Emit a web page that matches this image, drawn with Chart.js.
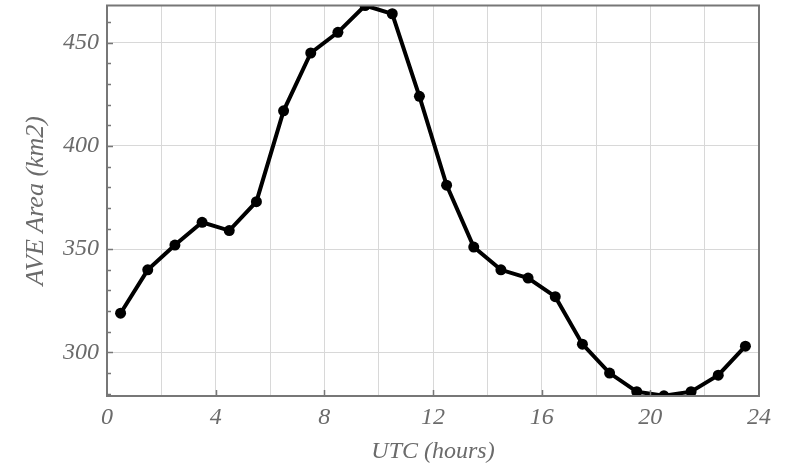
<!DOCTYPE html>
<html>
<head>
<meta charset="utf-8">
<script src="https://cdn.jsdelivr.net/npm/chart.js@4.4.0/dist/chart.umd.min.js"></script>
<style>
  html, body { margin: 0; padding: 0; background: #fff; }
  #wrap { width: 794px; height: 466px; position: relative; }
</style>
</head>
<body>
<div id="wrap"><canvas id="c" width="794" height="466"></canvas></div>
<script>
const hours = [0.5, 1.5, 2.5, 3.5, 4.5, 5.5, 6.5, 7.5, 8.5, 9.5, 10.5, 11.5,
               12.5, 13.5, 14.5, 15.5, 16.5, 17.5, 18.5, 19.5, 20.5, 21.5, 22.5, 23.5];
const aveArea = [319, 340, 352, 363, 359, 373, 417, 445, 455, 468, 464, 424,
                 381, 351, 340, 336, 327, 304, 290, 281, 279, 281, 289, 303];
const xTickLabels = [0, 4, 8, 12, 16, 20, 24];
const yTickLabels = [300, 350, 400, 450];
const xTitle = 'UTC (hours)';
const yTitle = 'AVE Area (km2)';

const textColor = '#6b6b6b';
const axisColor = '#777777';
const gridColor = '#d8d8d8';

const framePlugin = {
  id: 'frame',
  afterDraw(chart) {
    const ctx = chart.ctx;
    const a = chart.chartArea;
    const xs = chart.scales.x, ys = chart.scales.y;
    ctx.save();
    ctx.strokeStyle = axisColor;
    ctx.lineWidth = 2;
    ctx.strokeRect(a.left, a.top, a.right - a.left, a.bottom - a.top);
    ctx.lineWidth = 1.5;
    xTickLabels.forEach(v => {
      if (v <= xs.min || v >= xs.max) return;
      const px = Math.round(xs.getPixelForValue(v)) + 0.5;
      ctx.beginPath(); ctx.moveTo(px, a.bottom); ctx.lineTo(px, a.bottom - 6); ctx.stroke();
    });
    for (let v = 280; v <= 460; v += 10) {
      if (v < ys.min || v > ys.max) continue;
      const py = Math.round(ys.getPixelForValue(v)) + 0.5;
      const len = (v % 50 === 0) ? 6 : 4;
      ctx.beginPath(); ctx.moveTo(a.left, py); ctx.lineTo(a.left + len, py); ctx.stroke();
    }
    ctx.restore();
  }
};

new Chart(document.getElementById('c'), {
  type: 'line',
  data: {
    datasets: [{
      data: hours.map((h, i) => ({ x: h, y: aveArea[i] })),
      borderColor: '#000',
      backgroundColor: '#000',
      borderWidth: 4,
      pointRadius: 5.5,
      pointHoverRadius: 5.5,
      pointBorderWidth: 0,
      tension: 0,
      clip: 0
    }]
  },
  options: {
    responsive: false,
    animation: false,
    events: [],
    layout: { padding: { left: 0, right: 35, top: 5, bottom: 0 } },
    plugins: { legend: { display: false }, tooltip: { enabled: false } },
    scales: {
      x: {
        type: 'linear',
        min: 0, max: 24,
        afterFit(s) { s.height = 70; s.paddingLeft = 0; s.paddingRight = 0; },
        ticks: {
          stepSize: 2,
          autoSkip: false,
          maxRotation: 0,
          padding: 7,
          color: textColor,
          font: { family: 'Liberation Serif', style: 'italic', size: 24 },
          callback: v => (xTickLabels.includes(v) ? String(v) : '')
        },
        grid: { color: gridColor, lineWidth: 1, drawTicks: false },
        border: { display: false },
        title: {
          display: true, text: xTitle, color: textColor,
          font: { family: 'Liberation Serif', style: 'italic', size: 24 },
          padding: { top: 0, bottom: 0 }
        }
      },
      y: {
        type: 'linear',
        min: 278.9, max: 468,
        afterFit(s) { s.width = 107; s.paddingTop = 0; s.paddingBottom = 0; },
        afterBuildTicks(s) { s.ticks = yTickLabels.map(v => ({ value: v })); },
        ticks: {
          padding: 8,
          color: textColor,
          font: { family: 'Liberation Serif', style: 'italic', size: 24 },
          callback: v => String(v)
        },
        grid: { color: gridColor, lineWidth: 1, drawTicks: false },
        border: { display: false },
        title: {
          display: true, text: yTitle, color: textColor,
          font: { family: 'Liberation Serif', style: 'italic', size: 26 },
          padding: { top: 21, bottom: 0 }
        }
      }
    }
  },
  plugins: [framePlugin]
});
</script>
</body>
</html>
